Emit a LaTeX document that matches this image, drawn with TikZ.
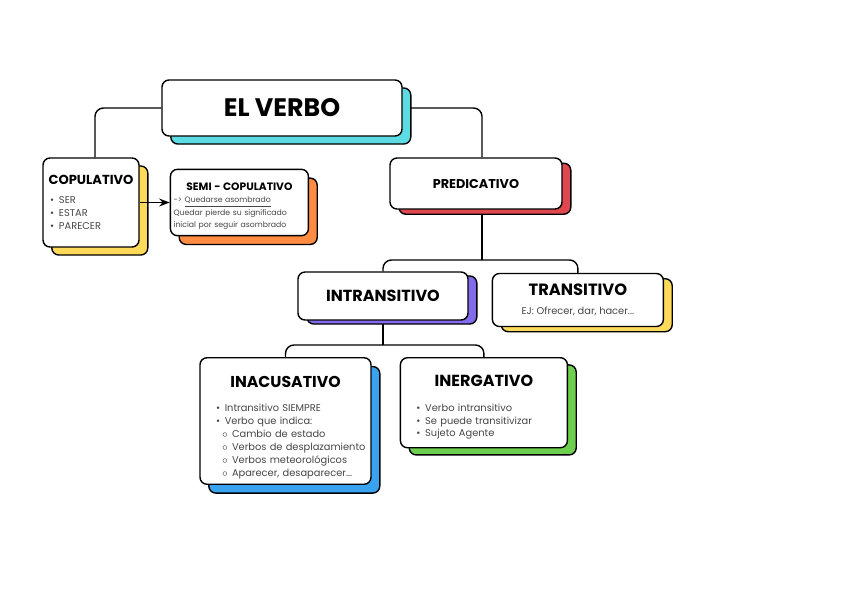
\documentclass[tikz,border=0pt]{standalone}
\usepackage{fontspec}
\setmainfont{Poppins}
\usetikzlibrary{arrows.meta, positioning, shadows, backgrounds, calc}
\usepackage{xcolor}
\definecolor{vcyan}{RGB}{92, 219, 226}
\definecolor{vyellow}{RGB}{255, 217, 90}
\definecolor{vorange}{RGB}{255, 140, 66}
\definecolor{vred}{RGB}{224, 72, 80}
\definecolor{vpurple}{RGB}{132, 106, 236}
\definecolor{vblue}{RGB}{58, 163, 240}
\definecolor{vgreen}{RGB}{110, 206, 78}
\definecolor{vtext}{RGB}{70, 70, 70}
\newcommand{\ttl}[1]{\fontsize{#1}{#1}\selectfont\bfseries}
\newcommand{\bdy}{\fontsize{7}{9.2}\selectfont\color{vtext}}
\newcommand{\hd}[1]{\makebox[\linewidth]{\color{black}#1}}
\newcommand{\blt}[1]{\mbox{\makebox[0.22cm][l]{\textbullet}#1}}
\newcommand{\sblt}[1]{\mbox{\hspace*{0.15cm}\makebox[0.25cm][l]{$\circ$}#1}}
\tikzset{
  cbox/.style 2 args={
    rectangle, rounded corners=5pt,
    draw=black, line width=1pt, fill=white,
    align=center, inner sep=4pt,
    drop shadow={shadow xshift=0.22cm, shadow yshift=#2,
      fill=#1, draw=black, line width=1pt, opacity=1}
  },
  lbox/.style 2 args={cbox={#1}{#2}, align=left},
  conn/.style={line width=1pt, rounded corners=6pt},
  arr/.style={-Stealth, line width=1pt},
}

\begin{document}
\begin{tikzpicture}
    \node[cbox={vcyan}{-0.2cm}, minimum width=6cm, minimum height=1.4cm,
      font={\ttl{18}}] (verbo) at (7.05,-2.7) {EL VERBO};

    \node[lbox={vyellow}{-0.2cm}, minimum width=2.4cm, minimum height=2.225cm,
      text width=2.04cm, inner xsep=0.18cm, font=\bdy] (copu) at (2.275,-5.0625)
      {\hd{\ttl{9.3}COPULATIVO}\\[4pt]
       \blt{SER}\\ \blt{ESTAR}\\ \blt{PARECER}};
    \node[lbox={vorange}{-0.22cm}, minimum width=3.45cm, minimum height=1.65cm,
      text width=3.29cm, inner xsep=0.08cm, font={\fontsize{5.5}{8.9}\selectfont\color{vtext}},
      right=0.75cm of copu] (semi)
      {\hd{\rule{0pt}{11pt}\ttl{7.6}SEMI - COPULATIVO}\\[0pt]
       -> \underline{Quedarse asombrado}\\
       Quedar pierde su significado\\
       inicial por seguir asombrado};

    \node[cbox={vred}{-0.13cm}, minimum width=4.3cm, minimum height=1.275cm,
      font={\ttl{9.1}}] (pred) at (11.9,-4.5875) {PREDICATIVO};

    \node[cbox={vpurple}{-0.1cm}, minimum width=4.25cm, minimum height=1.2cm,
      font={\ttl{11.4}}] (intr) at (9.575,-7.4) {INTRANSITIVO};
    \node[cbox={vyellow}{-0.13cm}, minimum width=4.275cm, minimum height=1.325cm,
      right=0.575cm of intr, yshift=-0.1cm] (trans)
      {{\ttl{11.6}TRANSITIVO}\\[1pt] {\bdy EJ: Ofrecer, dar, hacer...}};

    \node[lbox={vblue}{-0.22cm}, minimum width=4.275cm, minimum height=3.15cm,
      text width=3.475cm, inner xsep=0.4cm, font=\bdy] (inac) at (7.1375,-10.525)
      {\hd{\rule{0pt}{17pt}\ttl{11.2}INACUSATIVO}\\[8pt]
       \blt{Intransitivo SIEMPRE}\\
       \blt{Verbo que indica:}\\
       \sblt{Cambio de estado}\\
       \sblt{Verbos de desplazamiento}\\
       \sblt{Verbos meteorológicos}\\
       \sblt{Aparecer, desaparecer...}};
    \node[lbox={vgreen}{-0.18cm}, minimum width=4.175cm, minimum height=2.25cm,
      text width=3.375cm, inner xsep=0.4cm, font=\bdy,
      right=0.7cm of inac.north east, anchor=north west] (inerg)
      {\hd{\rule{0pt}{15pt}\ttl{11.4}INERGATIVO}\\[8pt]
       \blt{Verbo intransitivo}\\
       \blt{Se puede transitivizar}\\
       \blt{Sujeto Agente}};

    \draw[arr] (copu.east) -- (copu.east -| semi.west);

    \begin{scope}[on background layer]
      \fill[white] (0,0) rectangle (21.2,-14.975);
      \coordinate (jp) at (0,-6.5);
      \coordinate (ji) at (0,-8.625);
      \draw[conn] (verbo.west) -| ([xshift=0.1cm]copu.north);
      \draw[conn] (verbo.east) -| ([xshift=0.15cm]pred.north);
      \draw[conn] ([xshift=0.15cm]pred.south) -- ([xshift=0.15cm]pred.south |- jp);
      \draw[conn] (intr.north) |- (trans.north |- jp) -- (trans.north);
      \draw[conn] (intr.south) -- (intr.south |- ji);
      \draw[conn] (inac.north) |- (inerg.north |- ji) -- (inerg.north);
    \end{scope}
    \useasboundingbox (0,0) rectangle (21.2,-14.975);
  \end{tikzpicture}
\end{document}
